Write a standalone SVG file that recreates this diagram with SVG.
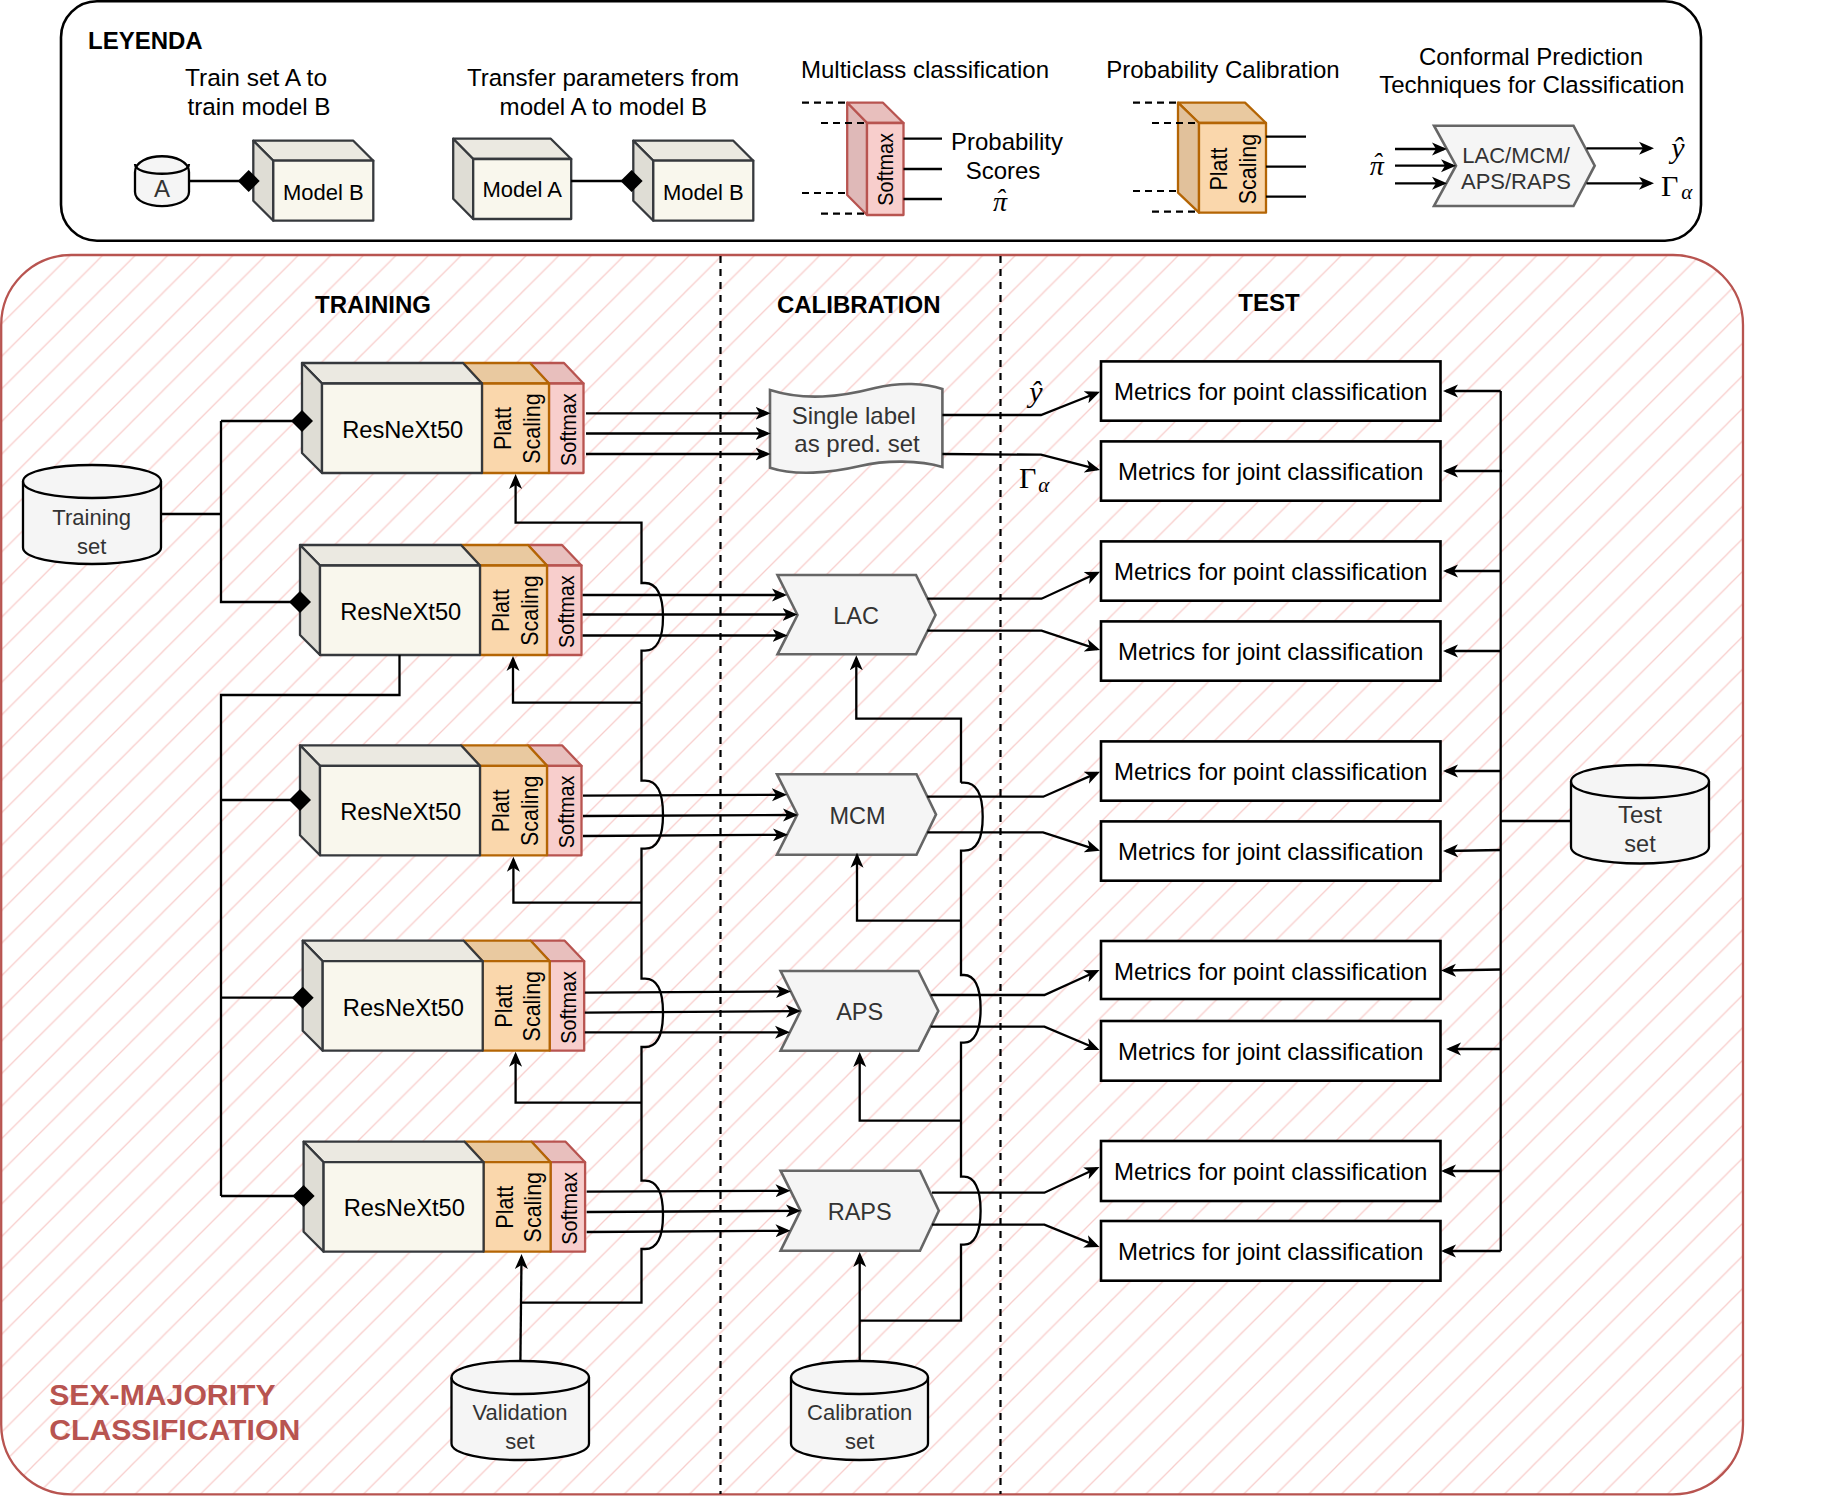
<svg xmlns="http://www.w3.org/2000/svg" width="1822" height="1496" viewBox="0 0 1822 1496">
<style>
text{font-family:"Liberation Sans",Arial,sans-serif;fill:#000}
.m{text-anchor:middle}
.s24{font-size:24px}
.s22{font-size:22px}
.g{fill:#333}
.b{font-weight:bold;font-size:24px}
.rn{font-size:23.7px;text-anchor:middle}
.vp{font-size:21.5px;text-anchor:middle}
.vs{font-size:19.8px;text-anchor:middle}
.math{font-family:"Liberation Serif","DejaVu Serif",serif;font-size:30px}
.pi{font-family:"Liberation Serif","DejaVu Serif",serif;font-size:28px;font-style:italic}
.it{font-style:italic}
.st{font-style:italic;font-size:21px}
.title{font-weight:bold;font-size:30.2px;fill:#b85450}
.c{fill:none;stroke:#000;stroke-width:2.3}
.a{marker-end:url(#arr)}
.d{marker-end:url(#dia)}
.dash{fill:none;stroke:#000;stroke-width:2.2;stroke-dasharray:7 6}
.ld{fill:none;stroke:#000;stroke-width:2.2;stroke-dasharray:7 5}
.cyl{fill:#f5f5f5;stroke:#000;stroke-width:2.3}
.hex{fill:#f5f5f5;stroke:#666;stroke-width:2.6}
.box{fill:#fff;stroke:#000;stroke-width:2.6}
.gf{fill:#f9f7ed;stroke:#36393d;stroke-width:2.3;stroke-linejoin:round}
.gt{fill:#ebe9e1;stroke:#36393d;stroke-width:2.3;stroke-linejoin:round}
.gs{fill:#dfddd5;stroke:#36393d;stroke-width:2.3;stroke-linejoin:round}
.of{fill:#fad7ac;stroke:#b46504;stroke-width:2.3;stroke-linejoin:round}
.ot{fill:#e9c9a0;stroke:#b46504;stroke-width:2.3;stroke-linejoin:round}
.os{fill:#e1c19b;stroke:#b46504;stroke-width:2.3;stroke-linejoin:round}
.rf{fill:#f8cecc;stroke:#b85450;stroke-width:2.3;stroke-linejoin:round}
.rt{fill:#e8bfbd;stroke:#b85450;stroke-width:2.3;stroke-linejoin:round}
.rs{fill:#dfb9b8;stroke:#b85450;stroke-width:2.3;stroke-linejoin:round}
</style>
<defs>
<pattern id="hatch" patternUnits="userSpaceOnUse" width="32.6" height="32.6" patternTransform="translate(-0.6,0)">
<path d="M-2 2L2 -2M0 32.6L32.6 0M30.6 34.6L34.6 30.6" stroke="#f8cecc" stroke-width="1.3" fill="none"/>
</pattern>
<marker id="arr" markerUnits="userSpaceOnUse" markerWidth="16" markerHeight="14" refX="12" refY="7" orient="auto">
<path d="M15 7L0 .5L4 7L0 13.5Z" fill="#000"/>
</marker>
<marker id="dia" markerUnits="userSpaceOnUse" markerWidth="22" markerHeight="22" refX="11" refY="11" orient="auto">
<path d="M0 11L11 0L22 11L11 22Z" fill="#000"/>
</marker>
<g id="block-shape">
<path class="rt" d="M228 0H262L281.5 20.5H247Z"/>
<rect class="rf" x="247" y="20.5" width="34.5" height="89.5"/>
<path class="ot" d="M161 0H228L247 20.5H180Z"/>
<rect class="of" x="180" y="20.5" width="67" height="89.5"/>
<path class="gt" d="M0 0H161L180 20.5H20Z"/>
<path class="gs" d="M0 0L20 20.5V110L0 90Z"/>
<rect class="gf" x="20" y="20.5" width="160" height="89.5"/>
</g>
<g id="legend-cube">
<path class="gt" d="M0 0H100L120 20H20Z"/>
<path class="gs" d="M0 0L20 20V80L0 60Z"/>
<rect class="gf" x="20" y="20" width="100" height="60"/>
</g>
</defs>

<g id="legend-frame">
<rect x="61" y="1.3" width="1640" height="239.4" rx="36" ry="36" fill="#fff" stroke="#000" stroke-width="2.6"/>
<text class="b" x="88" y="49">LEYENDA</text>
<text class="s24 m" x="256" y="86.2" style="font-size:24.5px">Train set A to</text>
<text class="s24 m" x="259" y="114.5" style="font-size:24.3px">train model B</text>
<text class="s24 m" x="603" y="86.2" style="font-size:24.1px">Transfer parameters from</text>
<text class="s24 m" x="603.4" y="114.5" style="font-size:24.1px">model A to model B</text>
<text class="s24 m" x="925" y="78.3">Multiclass classification</text>
<text class="s24 m" x="1223" y="78.3">Probability Calibration</text>
<text class="s24 m" x="1531" y="64.5">Conformal Prediction</text>
<text class="s24 m" x="1531.8" y="92.5" style="font-size:24.1px">Techniques for Classification</text>
<text class="s24 m" x="1007" y="150">Probability</text>
<text class="s24 m" x="1003" y="179">Scores</text>
<text class="pi" x="993" y="210.7">π<tspan dx="-11.5" dy="-3">ˆ</tspan></text>
<text class="pi" x="1369.7" y="175">π<tspan dx="-11.5" dy="-3">ˆ</tspan></text>
<text class="math it m" x="1678" y="158">ŷ</text>
<text class="math" x="1661" y="196">Γ<tspan class="st" dx="3" dy="3">α</tspan></text>
</g>

<g id="main-frame">
<rect x="1.2" y="255" width="1741.8" height="1239.4" rx="70" ry="70" fill="#fff"/>
<rect x="1.2" y="255" width="1741.8" height="1239.4" rx="70" ry="70" fill="url(#hatch)" stroke="#b85450" stroke-width="2.3"/>
<path class="dash" d="M720.5 256V1494"/>
<path class="dash" d="M1000.5 256V1494"/>
<text class="b m" x="373" y="313">TRAINING</text>
<text class="b m" x="858.7" y="312.7">CALIBRATION</text>
<text class="b m" x="1269" y="311">TEST</text>
<text class="title" x="49.2" y="1404.5">SEX-MAJORITY</text>
<text class="title" x="49.2" y="1440">CLASSIFICATION</text>
</g>

<g id="legend-cyl-A">
<path class="cyl" d="M135 172C135 151 189 151 189 172V192C189 210.7 135 210.7 135 192Z"/>
<path class="cyl" d="M135 164C135 177 189 177 189 164" style="fill:none"/>
<text class="s22 g m" x="162" y="197" style="font-size:24px">A</text>
</g>
<g id="legend-model-b1" transform="translate(253.3,140.7)">
<use href="#legend-cube"/>
<text class="s22 m" x="70" y="59">Model B</text>
</g>
<g id="legend-model-a" transform="translate(453.2,138.7)">
<path class="gt" d="M0 0H97.6L118 20.3H20Z"/>
<path class="gs" d="M0 0L20 20.3V80.3L0 60Z"/>
<rect class="gf" x="20" y="20.3" width="98" height="60"/>
<text class="s22 m" x="69" y="58.6">Model A</text>
</g>
<g id="legend-model-b2" transform="translate(633.3,140.7)">
<use href="#legend-cube"/>
<text class="s22 m" x="70" y="59">Model B</text>
</g>
<g id="legend-softmax">
<path class="rt" d="M847.2 102.7H883L903.5 123H867Z"/>
<path class="rs" d="M847.2 102.7L867 123V215L847.2 195Z"/>
<rect class="rf" x="867" y="123" width="36.5" height="92"/>
<text class="vs" transform="translate(893.3 169.5) rotate(-90) scale(1 1.1)">Softmax</text>
</g>
<g id="legend-platt">
<path class="ot" d="M1178 102.7H1245L1266 123H1199Z"/>
<path class="os" d="M1178 102.7L1199 123V212.7L1178 192.7Z"/>
<rect class="of" x="1199" y="123" width="67" height="89.7"/>
<text class="vp" transform="translate(1227.3 169) rotate(-90) scale(1 1.1)">Platt</text>
<text class="vp" transform="translate(1255.7 169) rotate(-90) scale(1 1.1)">Scaling</text>
</g>
<g id="legend-cp">
<path class="hex" d="M1434 125.7H1573.5L1594.7 165.7L1573.5 206H1434L1456 165.7Z"/>
<text class="s22 g m" x="1516" y="162.7">LAC/MCM/</text>
<text class="s22 g m" x="1516" y="188.7">APS/RAPS</text>
</g>

<g id="block1" transform="translate(302,363)"><use href="#block-shape"/>
<text class="rn" x="100.7" y="75">ResNeXt50</text>
<text class="vp" transform="translate(209.3 65.5) rotate(-90) scale(1 1.1)">Platt</text>
<text class="vp" transform="translate(237.7 65.5) rotate(-90) scale(1 1.1)">Scaling</text>
<text class="vs" transform="translate(273.7 66.7) rotate(-90) scale(1 1.1)">Softmax</text></g>
<g id="block2" transform="translate(300,545)"><use href="#block-shape"/>
<text class="rn" x="100.7" y="75">ResNeXt50</text>
<text class="vp" transform="translate(209.3 65.5) rotate(-90) scale(1 1.1)">Platt</text>
<text class="vp" transform="translate(237.7 65.5) rotate(-90) scale(1 1.1)">Scaling</text>
<text class="vs" transform="translate(273.7 66.7) rotate(-90) scale(1 1.1)">Softmax</text></g>
<g id="block3" transform="translate(300,745.3)"><use href="#block-shape"/>
<text class="rn" x="100.7" y="75">ResNeXt50</text>
<text class="vp" transform="translate(209.3 65.5) rotate(-90) scale(1 1.1)">Platt</text>
<text class="vp" transform="translate(237.7 65.5) rotate(-90) scale(1 1.1)">Scaling</text>
<text class="vs" transform="translate(273.7 66.7) rotate(-90) scale(1 1.1)">Softmax</text></g>
<g id="block4" transform="translate(302.7,940.7)"><use href="#block-shape"/>
<text class="rn" x="100.7" y="75">ResNeXt50</text>
<text class="vp" transform="translate(209.3 65.5) rotate(-90) scale(1 1.1)">Platt</text>
<text class="vp" transform="translate(237.7 65.5) rotate(-90) scale(1 1.1)">Scaling</text>
<text class="vs" transform="translate(273.7 66.7) rotate(-90) scale(1 1.1)">Softmax</text></g>
<g id="block5" transform="translate(303.6,1141.7)"><use href="#block-shape"/>
<text class="rn" x="100.7" y="74.5">ResNeXt50</text>
<text class="vp" transform="translate(209.3 65.5) rotate(-90) scale(1 1.1)">Platt</text>
<text class="vp" transform="translate(237.7 65.5) rotate(-90) scale(1 1.1)">Scaling</text>
<text class="vs" transform="translate(273.7 66.7) rotate(-90) scale(1 1.1)">Softmax</text></g>

<g id="training-set">
<path class="cyl" d="M23 481.5C23 459.5 161 459.5 161 481.5V547.5C161 569.5 23 569.5 23 547.5Z"/>
<path class="cyl" style="fill:none" d="M23 481.5C23 503.5 161 503.5 161 481.5"/>
<text class="s22 g m" x="91.7" y="524.8">Training</text>
<text class="s22 g m" x="91.7" y="553.5">set</text>
</g>
<g id="validation-set">
<path class="cyl" d="M451.5 1377.5C451.5 1355.5 589 1355.5 589 1377.5V1443.5C589 1465.5 451.5 1465.5 451.5 1443.5Z"/>
<path class="cyl" style="fill:none" d="M451.5 1377.5C451.5 1399.5 589 1399.5 589 1377.5"/>
<text class="s22 g m" x="520" y="1419.5">Validation</text>
<text class="s22 g m" x="520" y="1448.8">set</text>
</g>
<g id="calibration-set">
<path class="cyl" d="M791 1377.5C791 1355.5 928 1355.5 928 1377.5V1443.5C928 1465.5 791 1465.5 791 1443.5Z"/>
<path class="cyl" style="fill:none" d="M791 1377.5C791 1399.5 928 1399.5 928 1377.5"/>
<text class="s22 g m" x="859.7" y="1419.5">Calibration</text>
<text class="s22 g m" x="859.7" y="1448.8">set</text>
</g>
<g id="test-set">
<path class="cyl" d="M1571 781.5C1571 759.5 1709 759.5 1709 781.5V847C1709 869 1571 869 1571 847Z"/>
<path class="cyl" style="fill:none" d="M1571 781.5C1571 803.5 1709 803.5 1709 781.5"/>
<text class="s24 g m" x="1640" y="823">Test</text>
<text class="s24 g m" x="1640" y="852" style="font-size:23.5px">set</text>
</g>

<g id="single-label">
<path class="hex" d="M770 390C805 401 840 397 875 388C900 382 925 383 942.4 389V467C920 460 885 460 860 466C830 473 795 476 770 467.7Z"/>
<text class="s24 g m" x="853.7" y="424">Single label</text>
<text class="s24 g m" x="857" y="452">as pred. set</text>
</g>
<g id="lac"><path class="hex" d="M777.5 575H916L935.5 615L916 654.3H777.5L797.5 615Z"/><text class="s24 g m" x="856" y="624" style="font-size:23.5px">LAC</text></g>
<g id="mcm"><path class="hex" d="M777 774.3H916.5L936 814.5L916.5 854.7H777L797.3 814.5Z"/><text class="s24 g m" x="857.6" y="824.3" style="font-size:23.5px">MCM</text></g>
<g id="aps"><path class="hex" d="M780.6 971H918.4L938.3 1011L918.4 1050.7H780.6L800.5 1011Z"/><text class="s24 g m" x="859.7" y="1020" style="font-size:23.5px">APS</text></g>
<g id="raps"><path class="hex" d="M780.6 1170.7H920L938.8 1210.7L920 1250.7H780.6L800.5 1210.7Z"/><text class="s24 g m" x="859.7" y="1220" style="font-size:23.5px">RAPS</text></g>

<g id="m1"><rect class="box" x="1101" y="361.4" width="339.5" height="59.3"/><text class="s24 m" x="1270.7" y="400.2">Metrics for point classification</text></g>
<g id="m2"><rect class="box" x="1101" y="441.4" width="339.5" height="59.3"/><text class="s24 m" x="1270.7" y="480.2">Metrics for joint classification</text></g>
<g id="m3"><rect class="box" x="1101" y="541.4" width="339.5" height="59.3"/><text class="s24 m" x="1270.7" y="580.2">Metrics for point classification</text></g>
<g id="m4"><rect class="box" x="1101" y="621.4" width="339.5" height="59.3"/><text class="s24 m" x="1270.7" y="660.2">Metrics for joint classification</text></g>
<g id="m5"><rect class="box" x="1101" y="741.4" width="339.5" height="59.3"/><text class="s24 m" x="1270.7" y="780.2">Metrics for point classification</text></g>
<g id="m6"><rect class="box" x="1101" y="821.4" width="339.5" height="59.3"/><text class="s24 m" x="1270.7" y="860.2">Metrics for joint classification</text></g>
<g id="m7"><rect class="box" x="1101" y="941" width="339.5" height="58"/><text class="s24 m" x="1270.7" y="980">Metrics for point classification</text></g>
<g id="m8"><rect class="box" x="1101" y="1021" width="339.5" height="59.7"/><text class="s24 m" x="1270.7" y="1060">Metrics for joint classification</text></g>
<g id="m9"><rect class="box" x="1101" y="1141" width="339.5" height="60"/><text class="s24 m" x="1270.7" y="1180">Metrics for point classification</text></g>
<g id="m10"><rect class="box" x="1101" y="1221" width="339.5" height="59.7"/><text class="s24 m" x="1270.7" y="1260">Metrics for joint classification</text></g>

<g id="connectors">
<!-- legend -->
<path class="c d" d="M189 181H248.7"/>
<path class="c d" d="M571 181H631.6"/>
<path class="ld" d="M802 102.7H847M821 123H867M802 193H847M821 213.7H867"/>
<path class="c" d="M903.5 138.7H942M903.5 169H942M903.5 199H942"/>
<path class="ld" d="M1133 102.7H1178M1152 123H1199M1133 191H1178M1152 211.7H1199"/>
<path class="c" d="M1266 136.7H1306M1266 166.7H1306M1266 196.7H1306"/>
<path class="c a" d="M1395 149H1444"/>
<path class="c a" d="M1395 165.7H1453"/>
<path class="c a" d="M1395 183.3H1444"/>
<path class="c a" d="M1586.5 148.3H1651"/>
<path class="c a" d="M1586.5 183.3H1651"/>
<!-- training -->
<path class="c" d="M161 514H221"/>
<path class="c d" d="M221 421H302"/>
<path class="c d" d="M221 421V602H300"/>
<path class="c" d="M399.5 655V695H221V1196"/>
<path class="c d" d="M221 800H300"/>
<path class="c d" d="M221 997.7H302.7"/>
<path class="c d" d="M221 1196H303.6"/>
<!-- softmax outputs -->
<path class="c a" d="M586 413.3H767.5"/><path class="c a" d="M586 433.5H767.5"/><path class="c a" d="M586 454H767.5"/>
<path class="c a" d="M582.6 595H784"/><path class="c a" d="M582.6 614.5H794.5"/><path class="c a" d="M582.6 635.5H784.5"/>
<path class="c a" d="M583 795.7L784 794.8"/><path class="c a" d="M583 816L795 815"/><path class="c a" d="M583 836L785 834.8"/>
<path class="c a" d="M584.8 992.7L788 991.4"/><path class="c a" d="M584.8 1012.7L798 1011.1"/><path class="c a" d="M584.8 1032.3H787"/>
<path class="c a" d="M586.7 1191.7L787.5 1190.8"/><path class="c a" d="M586.7 1212L798 1210.8"/><path class="c a" d="M586.7 1232L787.5 1230.8"/>
<!-- validation bus -->
<path class="c a" d="M641.5 702.7V650.7H645C656 650.7 663 640 663 617S656 583 645 583H641.5V522.7H515.6V477"/>
<path class="c a" d="M641.5 702.7H513V659"/>
<path class="c a" d="M641.5 902.7H513.4V859.7"/>
<path class="c a" d="M641.5 1102.7H515.6V1054.7"/>
<path class="c" d="M641.5 702.7V780.7H645C656 780.7 663 791 663 814.7S656 848.7 645 848.7H641.5V978.7H645C656 978.7 663 989 663 1012.7S656 1047 645 1047H641.5V1180.7H645C656 1180.7 663 1191 663 1214.7S656 1249 645 1249H641.5V1302.7H520.6"/>
<path class="c a" d="M520.4 1361L521.5 1257"/>
<!-- calibration bus -->
<path class="c a" d="M961 782.7V718.7H856.3V658.3"/>
<path class="c" d="M961 782.7H964C976 782.7 982.7 794 982.7 816.7S976 850.7 964 850.7H961V975H964C974 975 980.6 986 980.6 1008.7S974 1042.7 964 1042.7H961V1176.7H964C974 1176.7 980.6 1188 980.6 1210.7S974 1244.7 964 1244.7H961V1320.7H859.7"/>
<path class="c a" d="M961 920.7H857V855.7"/>
<path class="c a" d="M961 1120.7H859.7V1055"/>
<path class="c a" d="M859.7 1361V1255"/>
<!-- outputs to metrics -->
<path class="c a" d="M942.4 415H1041L1097.2 392.8"/>
<path class="c a" d="M942.4 454L1041 454.7L1097.1 469.2"/>
<path class="c a" d="M927.3 598.7H1041.6L1097.3 573"/>
<path class="c a" d="M927.3 630.7H1041.6L1097.2 649.1"/>
<path class="c a" d="M927.3 796.7H1043.3L1097.3 772.9"/>
<path class="c a" d="M927.3 832.3H1043L1097.1 849.8"/>
<path class="c a" d="M930.6 995H1044.4L1096.8 971.2"/>
<path class="c a" d="M930.6 1026.7H1044.4L1096.7 1048.8"/>
<path class="c a" d="M932 1192.7H1044.4L1096.8 1168.3"/>
<path class="c a" d="M932 1224.7H1044.4L1096.7 1245.9"/>
<!-- test bus -->
<path class="c a" d="M1500.7 391H1446"/>
<path class="c" d="M1500.7 391V1251"/>
<path class="c a" d="M1502 471H1446"/>
<path class="c a" d="M1500.7 571H1446"/>
<path class="c a" d="M1500.7 651H1446"/>
<path class="c a" d="M1500.7 771H1446"/>
<path class="c a" d="M1500.7 850L1446 851"/>
<path class="c a" d="M1500.7 969.5L1444 970.5"/>
<path class="c a" d="M1500.7 1049H1449"/>
<path class="c a" d="M1500.7 1171H1444"/>
<path class="c a" d="M1500.7 1251H1444"/>
<path class="c" d="M1500.7 821H1571"/>
<text class="math it m" x="1036" y="401.7">ŷ</text>
<text class="math" x="1019" y="488">Γ<tspan class="st" dx="2" dy="3.5">α</tspan></text>
</g>
</svg>
